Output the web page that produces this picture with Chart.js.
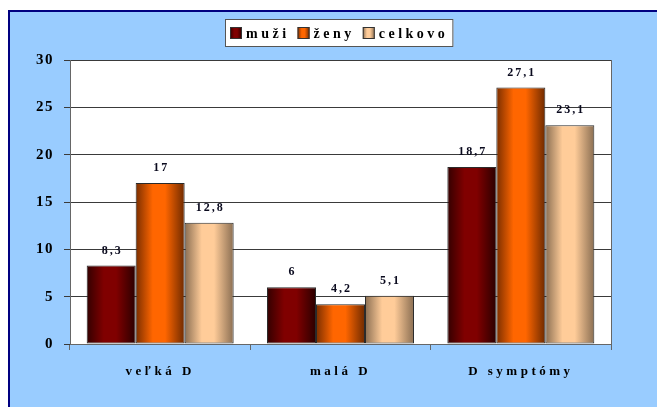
<!DOCTYPE html>
<html>
<head>
<meta charset="utf-8">
<script src="https://cdn.jsdelivr.net/npm/chart.js@4/dist/chart.umd.min.js"></script>
<style>
  html, body { margin: 0; padding: 0; background: #ffffff; width: 657px; height: 407px; overflow: hidden; }
  #panel { position: absolute; left: 8px; top: 10px; width: 647px; height: 395px;
           background: #99CCFF; border-left: 2px solid #000080; border-top: 2px solid #000080; }
  canvas { display: block; }
</style>
</head>
<body>
<div id="panel"><canvas id="c" width="647" height="395"></canvas></div>
<script>
const categories = ['veľká D', 'malá D', 'D symptómy'];
const seriesNames = ['muži', 'ženy', 'celkovo'];
const muzi = [8.3, 6, 18.7];
const zeny = [17, 4.2, 27.1];
const celkovo = [12.8, 5.1, 23.1];
const yTicks = [0, 5, 10, 15, 20, 25, 30];

const palettes = [
  { edgeL: '#330000', mid: '#800000', edgeR: '#2a0000' },
  { edgeL: '#7a2e00', mid: '#FF6600', edgeR: '#6e2a00' },
  { edgeL: '#8a6e52', mid: '#FFCC99', edgeR: '#8a6e52' }
];
const FONT = '"Liberation Serif", "Times New Roman", serif';

function makeGrad(ctx, x0, x1, p) {
  const g = ctx.createLinearGradient(x0, 0, x1, 0);
  g.addColorStop(0, p.edgeL);
  g.addColorStop(0.35, p.mid);
  g.addColorStop(0.6, p.mid);
  g.addColorStop(1, p.edgeR);
  return g;
}

const fmt = v => String(v).replace('.', ',');

const decor = {
  id: 'decor',
  afterLayout(chart) {
    const xs = chart.scales.x;
    if (!xs._patched) {
      const orig = xs.drawLabels;
      xs.drawLabels = function (area) {
        const prev = this.ctx.letterSpacing;
        this.ctx.letterSpacing = '3.5px';
        orig.call(this, area);
        this.ctx.letterSpacing = prev;
      };
      xs._patched = true;
    }
  },
  beforeDraw(chart) {
    const { ctx, chartArea: a } = chart;
    ctx.save();
    ctx.fillStyle = '#ffffff';
    ctx.fillRect(a.left, a.top, a.right - a.left, a.bottom - a.top);
    ctx.restore();
    ctx.letterSpacing = '1.5px';
  },
  beforeDatasetsDraw(chart) {
    const ctx = chart.ctx;
    chart.data.datasets.forEach((ds, di) => {
      const meta = chart.getDatasetMeta(di);
      meta.data.forEach(el => {
        if (el.options && !Object.isFrozen(el.options)) {
          el.options.backgroundColor = makeGrad(ctx, el.x - el.width / 2, el.x + el.width / 2, palettes[di]);
        }
      });
    });
  },
  afterDatasetsDraw(chart) {
    const { ctx, chartArea: a } = chart;
    ctx.save();
    ctx.strokeStyle = '#666666';
    ctx.lineWidth = 1;
    ctx.beginPath();
    ctx.moveTo(Math.round(a.right) + 0.5, a.top);
    ctx.lineTo(Math.round(a.right) + 0.5, a.bottom + 6);
    ctx.stroke();
    ctx.letterSpacing = '2px';
    ctx.font = 'bold 12px ' + FONT;
    ctx.fillStyle = '#0a0a1e';
    ctx.textAlign = 'center';
    ctx.textBaseline = 'middle';
    chart.data.datasets.forEach((ds, di) => {
      const meta = chart.getDatasetMeta(di);
      meta.data.forEach((el, i) => {
        ctx.fillText(fmt(ds.data[i]), el.x + 1, el.y - 15);
      });
    });
    ctx.restore();
  },
  afterDraw(chart) {
    const ctx = chart.ctx;
    ctx.save();
    ctx.letterSpacing = '3.5px';
    ctx.font = 'bold 14px ' + FONT;
    const sw = 12, gapSw = 4, gapItem = 8, pad = 5;
    const widths = seriesNames.map(n => ctx.measureText(n).width);
    let total = pad * 2;
    widths.forEach((w, i) => { total += sw + gapSw + w + (i < widths.length - 1 ? gapItem : 0); });
    const cx = 329.5;
    const left = Math.round(cx - total / 2);
    const top = 7, h = 28;
    ctx.fillStyle = '#ffffff';
    ctx.fillRect(left, top, total, h);
    ctx.strokeStyle = '#555555';
    ctx.lineWidth = 1;
    ctx.strokeRect(left + 0.5, top + 0.5, total - 1, h - 1);
    let x = left + pad;
    const cy = top + h / 2;
    seriesNames.forEach((n, i) => {
      ctx.fillStyle = makeGrad(ctx, x, x + sw, palettes[i]);
      ctx.fillRect(x, cy - sw / 2, sw, sw);
      ctx.strokeStyle = '#333333';
      ctx.strokeRect(x + 0.5, cy - sw / 2 + 0.5, sw - 1, sw - 1);
      x += sw + gapSw;
      ctx.fillStyle = '#000000';
      ctx.textAlign = 'left';
      ctx.textBaseline = 'middle';
      ctx.fillText(n, x, cy + 1);
      x += widths[i] + gapItem;
    });
    ctx.restore();
    ctx.letterSpacing = '0px';
  }
};

const colorFn = () => '#800000';

new Chart(document.getElementById('c'), {
  type: 'bar',
  data: {
    labels: categories,
    datasets: [
      { label: seriesNames[0], data: muzi, backgroundColor: colorFn },
      { label: seriesNames[1], data: zeny, backgroundColor: colorFn },
      { label: seriesNames[2], data: celkovo, backgroundColor: colorFn }
    ]
  },
  options: {
    responsive: false,
    animation: false,
    devicePixelRatio: 1,
    layout: { padding: { top: 48, right: 46, left: 0, bottom: 0 } },
    datasets: {
      bar: {
        categoryPercentage: 0.815,
        barPercentage: 1,
        borderWidth: 1,
        borderColor: '#2a2a2a',
        borderSkipped: false
      }
    },
    plugins: {
      legend: { display: false },
      tooltip: { enabled: false }
    },
    scales: {
      x: {
        offset: true,
        grid: { display: true, offset: true, drawOnChartArea: false, tickLength: 6, color: '#666666', tickColor: '#666666' },
        border: { display: true, color: '#666666' },
        ticks: { color: '#000000', font: { family: FONT, size: 13, weight: 'bold' }, padding: 14, maxRotation: 0 },
        afterFit: s => { s.height = 63; }
      },
      y: {
        min: 0,
        max: 30,
        afterBuildTicks: s => { s.ticks = yTicks.map(v => ({ value: v })); },
        grid: { color: '#3a3a3a', tickLength: 6, tickColor: '#3a3a3a' },
        border: { display: true, color: '#666666' },
        ticks: { color: '#000000', font: { family: FONT, size: 15, weight: 'bold' }, padding: 10 },
        afterFit: s => { s.width = 60; }
      }
    }
  },
  plugins: [decor]
});
</script>
</body>
</html>
